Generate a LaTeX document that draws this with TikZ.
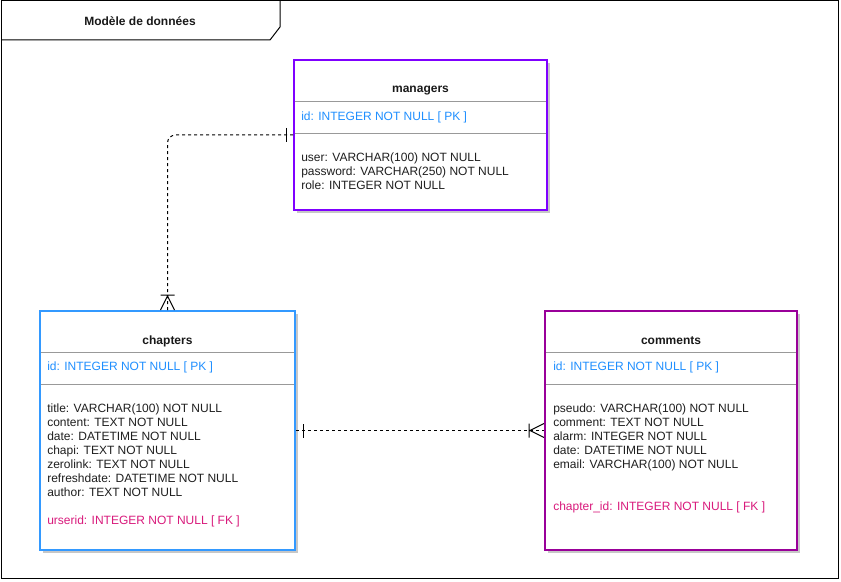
\documentclass[tikz,border=0pt]{standalone}
\usepackage{fontspec}
\setmainfont{Liberation Sans}
\usetikzlibrary{decorations.markings,shadows}

\definecolor{mgrcol}{HTML}{7F00FF}
\definecolor{chapcol}{HTML}{3399FF}
\definecolor{comcol}{HTML}{990099}
\definecolor{pkcol}{HTML}{1F8FFF}
\definecolor{fkcol}{HTML}{D91A7C}

\tikzset{
	tbl/.style={draw=#1, line width=1.5pt, fill=white, inner sep=0pt, drop shadow={shadow xshift=2.25pt, shadow yshift=-2.25pt, fill=black!22, opacity=1}},
	ttl/.style={font=\bfseries\fontsize{9}{10.5}\selectfont, text=black!90, inner sep=0pt},
	attr/.style={anchor=west, align=left, inner sep=0pt, font=\fontsize{9}{10.5}\selectfont, text=black!88},
	pk/.style={attr, text=pkcol},
	fk/.style={attr, text=fkcol},
	sepline/.style={draw=black!40, line width=0.75pt},
	rel/.style={line width=0.75pt, dash pattern=on 2.25pt off 2.25pt, rounded corners=6pt},
	one/.style={postaction={decorate, decoration={markings, mark=at position 5.25pt with {\draw[solid] (0,-5.25pt) -- (0,5.25pt);}}}},
	many/.style={postaction={decorate, decoration={markings, mark=at position -11.25pt with {\draw[solid] (0,-5.25pt) -- (0,5.25pt) (0.75pt,0) -- (11.25pt,5.25pt) (0.75pt,0) -- (11.25pt,-5.25pt);}}}}
}

\begin{document}
\begin{tikzpicture}[x=0.75pt,y=-0.75pt]
	\useasboundingbox (0,0) rectangle (841,581);
	\draw[line width=0.75pt] (1,1) rectangle (838.5,578.5);
	\draw[line width=0.75pt] (1,40) -- (270,40) -- (280,27) -- (280,1);
	\node[ttl] (frame) at (140,21) {Modèle de données};

	\node[tbl=mgrcol, minimum width=189.75pt, minimum height=112.5pt] (managers) at (420.5,135) {};
	\node[ttl] (mgrtitle) at (420.5,91) {managers};
	\draw[sepline] (295,102) -- (546,102);
	\node[pk] (mgrpk) at (301,117) {id: INTEGER NOT NULL [ PK ]};
	\draw[sepline] (295,134) -- (546,134);
	\node[attr] (mgrattr) at (301,171) {user: VARCHAR(100) NOT NULL\\password: VARCHAR(250) NOT NULL\\role: INTEGER NOT NULL};

	\node[tbl=chapcol, minimum width=191.25pt, minimum height=179.25pt] (chapters) at (167.5,430.5) {};
	\node[ttl] (chaptitle) at (167.5,341) {chapters};
	\draw[sepline] (41,352) -- (294,352);
	\node[pk] (chappk) at (47,367) {id: INTEGER NOT NULL [ PK ]};
	\draw[sepline] (41,384) -- (294,384);
	\node[attr] (chapattr) at (47,450) {title: VARCHAR(100) NOT NULL\\content: TEXT NOT NULL\\date: DATETIME NOT NULL\\chapi: TEXT NOT NULL\\zerolink: TEXT NOT NULL\\refreshdate: DATETIME NOT NULL\\author: TEXT NOT NULL};
	\node[fk] (chapfk) at (47,521) {urserid: INTEGER NOT NULL [ FK ]};

	\node[tbl=comcol, minimum width=189pt, minimum height=179.25pt] (comments) at (671,430.5) {};
	\node[ttl] (comtitle) at (671,341) {comments};
	\draw[sepline] (546,352) -- (796,352);
	\node[pk] (compk) at (553,367) {id: INTEGER NOT NULL [ PK ]};
	\draw[sepline] (546,384) -- (796,384);
	\node[attr] (comattr) at (553,437) {pseudo: VARCHAR(100) NOT NULL\\comment: TEXT NOT NULL\\alarm: INTEGER NOT NULL\\date: DATETIME NOT NULL\\email: VARCHAR(100) NOT NULL};
	\node[fk] (comfk) at (553,507) {chapter\_id: INTEGER NOT NULL [ FK ]};

	\draw[rel,one,many] (managers.west) -| (chapters.north);
	\draw[rel,one,many] (chapters.east) -- (comments.west);
\end{tikzpicture}
\end{document}
